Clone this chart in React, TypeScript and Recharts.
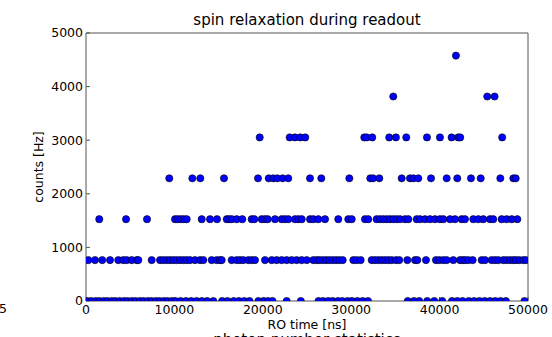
import { Label, Scatter, ScatterChart, XAxis, YAxis } from 'recharts'

// count-rate levels (Hz) seen in the readout histogram
const levels = [0, 763, 1526, 2289, 3052, 3815, 4578]

// RO times (ns) of the points sitting on each level
const level0 = [
  150, 600, 1100, 1500, 2000, 2400, 2900, 3300, 3800, 4300, 4700, 5200, 5600, 6100, 6500, 7000,
  7400, 7900, 8300, 8800, 9200, 9700, 10100, 10700, 11300, 11900, 12500, 13100, 13700, 14400,
  15400, 16000, 16700, 17300, 17900, 18500, 19500, 20100, 20600, 21100, 22700, 24300, 26300,
  26800, 27400, 27900, 28500, 29000, 29600, 30100, 30700, 31300, 31900, 36400, 37100, 37700,
  38600, 39400, 40300, 41400, 42000, 42600, 43300, 43900, 44500, 45100, 45700, 46300, 46900,
  47500, 49600,
]
const level1 = [
  260, 1020, 1840, 2720, 3650, 4220, 4600, 5170, 5740, 5920, 7430, 8370, 8740, 9130, 9500, 9880,
  10260, 10630, 11010, 11390, 11760, 12330, 12900, 13270, 14220, 14790, 15160, 15350, 16480,
  17050, 17420, 17790, 18360, 18740, 19120, 20250, 21010, 21570, 22140, 22700, 23270, 23830,
  24400, 24970, 25710, 26100, 26390, 26780, 27150, 27520, 27910, 28280, 28650, 29040, 30240,
  30620, 31070, 32320, 32690, 33070, 33450, 33820, 34200, 34580, 35070, 35440, 36350, 37220,
  37480, 38460, 39590, 39970, 40420, 40800, 41550, 42310, 42610, 42870, 43250, 43740, 44760,
  45140, 45890, 46270, 46640, 47210, 47590, 47960, 48340, 48640, 49020, 49470, 49770,
]
const level2 = [
  1500, 4530, 6900, 10070, 10370, 10710, 11050, 11390, 13090, 14030, 14820, 15920, 16180, 16480,
  17050, 17680, 18740, 19040, 19880, 20250, 20550, 21380, 22140, 22510, 22880, 23640, 24020,
  24400, 25340, 25710, 26280, 27040, 28540, 29670, 30060, 31560, 31930, 32880, 33260, 33630,
  34020, 34390, 34760, 35150, 35520, 36090, 36460, 37410, 37780, 38350, 38910, 39480, 40040,
  40420, 41180, 41740, 42500, 42870, 43810, 44380, 44940, 45700, 46070, 47020, 47590, 48160,
  48790,
]
const level3 = [
  9420, 12030, 12930, 15610, 19460, 20670, 21190, 21640, 22250, 22880, 25340, 26620, 29790,
  32160, 32470, 33180, 35710, 36650, 37030, 37590, 39030, 40800, 42000, 43550, 44650, 46870,
  48340, 48610,
]
const level4 = [
  19650, 23040, 23640, 24240, 24800, 31480, 31750, 32380, 34300, 35060, 36230, 38570, 40040,
  41360, 42110, 42330, 47080,
]
const level5 = [34760, 45390, 46220]
const level6 = [41850]

const xTicks = [0, 10000, 20000, 30000, 40000, 50000]
const yTicks = [0, 1000, 2000, 3000, 4000, 5000]

const byLevel = [level0, level1, level2, level3, level4, level5, level6]
const points = byLevel.flatMap((xs, k) => xs.map((x) => ({ x, y: levels[k] })))

const tickFont = { fontSize: 12.5, fill: '#000' }
const frame = '#555'

const Dot = (p: any) => (
  <circle cx={p.cx} cy={p.cy} r={3.6} fill="#0000ff" stroke="#000" strokeWidth={0.6} />
)

export default function App() {
  return (
    <div
      style={{
        position: 'absolute',
        left: 0,
        top: 0,
        width: 552,
        height: 337,
        overflow: 'hidden',
        background: '#fff',
        fontFamily: '"DejaVu Sans", sans-serif',
      }}
    >
      <ScatterChart width={552} height={337} margin={{ top: 32, right: 23, bottom: 6, left: 26 }}>
        <XAxis
          xAxisId="b"
          type="number"
          dataKey="x"
          domain={[0, 50000]}
          ticks={xTicks}
          interval={0}
          height={30}
          tickSize={-4}
          tickMargin={8}
          stroke={frame}
          tick={tickFont}
          allowDataOverflow
        >
          <Label value="RO time [ns]" position="insideBottom" offset={2} fill="#000" fontSize={12.5} />
        </XAxis>
        <XAxis
          xAxisId="t"
          orientation="top"
          type="number"
          dataKey="x"
          domain={[0, 50000]}
          ticks={xTicks}
          interval={0}
          height={1}
          tickSize={-4}
          tick={false}
          stroke={frame}
        >
          <Label value="spin relaxation during readout" position="top" offset={7} fill="#000" fontSize={15} />
        </XAxis>
        <YAxis
          yAxisId="l"
          type="number"
          dataKey="y"
          domain={[0, 5000]}
          ticks={yTicks}
          interval={0}
          width={60}
          tickSize={-4}
          tickMargin={7}
          stroke={frame}
          tick={tickFont}
          allowDataOverflow
        >
          <Label value="counts [Hz]" angle={-90} position="center" dx={-17} fill="#000" fontSize={12.5} />
        </YAxis>
        <YAxis
          yAxisId="r"
          orientation="right"
          type="number"
          dataKey="y"
          domain={[0, 5000]}
          ticks={yTicks}
          interval={0}
          width={1}
          tickSize={-4}
          tick={false}
          stroke={frame}
        />
        <Scatter data={points} xAxisId="b" yAxisId="l" shape={Dot} isAnimationActive={false} />
        <Scatter data={points} xAxisId="t" yAxisId="r" shape={() => null} isAnimationActive={false} />
      </ScatterChart>
      <span style={{ position: 'absolute', left: -1, top: 301, fontSize: 12.5, color: '#000' }}>5</span>
      <span
        style={{
          position: 'absolute',
          left: 0,
          width: 614,
          top: 331,
          textAlign: 'center',
          fontSize: 15,
          color: '#000',
          whiteSpace: 'nowrap',
        }}
      >
        photon number statistics
      </span>
    </div>
  )
}
